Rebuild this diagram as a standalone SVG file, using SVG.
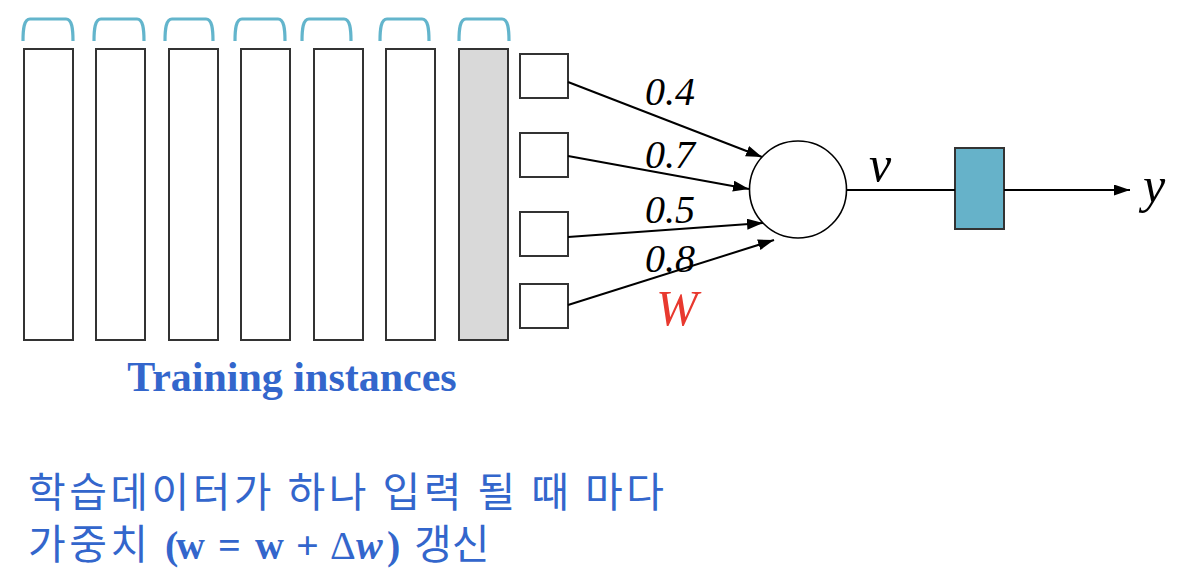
<svg xmlns="http://www.w3.org/2000/svg" width="1188" height="584" viewBox="0 0 1188 584">
<style>
.bracket{fill:none;stroke:#63B5CC;stroke-width:3.2;stroke-linecap:butt}
.bar{fill:#fff;stroke:#333;stroke-width:2}
.cur{fill:#D9D9D9;stroke:#333;stroke-width:2}
.inp{fill:#fff;stroke:#333;stroke-width:2}
.edge{stroke:#000;stroke-width:2;fill:none}
.wt{font-family:"Liberation Serif","Times New Roman",serif;font-style:italic;font-size:40px;fill:#000}
.var{font-family:"Liberation Serif","Times New Roman",serif;font-style:italic;font-size:50px;fill:#000}
.kr{font-family:"Noto Sans CJK KR","Noto Sans",sans-serif;font-size:41px;fill:#3366CC}
.ser{font-family:"Liberation Serif","Times New Roman",serif;font-weight:bold;font-size:40px;fill:#3366CC}
</style>
<defs>
<marker id="ah" markerUnits="userSpaceOnUse" markerWidth="17" markerHeight="12" refX="16" refY="5.5" orient="auto">
<path d="M0,0 L16,5.5 L0,11 z" fill="#000"/>
</marker>
</defs>
<g id="brackets">
<path class="bracket" d="M23,41 C23,29 24,19 30,19 H66 C72,19 73,29 73,41"/>
<path class="bracket" d="M94,41 C94,29 95,19 101,19 H137 C143,19 144,29 144,41"/>
<path class="bracket" d="M165,41 C165,29 166,19 172,19 H206 C212,19 213,29 213,41"/>
<path class="bracket" d="M235,41 C235,29 236,19 242,19 H278 C284,19 285,29 285,41"/>
<path class="bracket" d="M302,41 C302,29 303,19 309,19 H344 C350,19 351,29 351,41"/>
<path class="bracket" d="M380,41 C380,29 381,19 387,19 H422 C428,19 429,29 429,41"/>
<path class="bracket" d="M459,41 C459,29 460,19 466,19 H502 C508,19 509,29 509,41"/>
</g>
<g id="instance1"><rect class="bar" x="24" y="49" width="49" height="291"/></g>
<g id="instance2"><rect class="bar" x="96" y="49" width="49" height="291"/></g>
<g id="instance3"><rect class="bar" x="169" y="49" width="49" height="291"/></g>
<g id="instance4"><rect class="bar" x="241" y="49" width="49" height="291"/></g>
<g id="instance5"><rect class="bar" x="314" y="49" width="49" height="291"/></g>
<g id="instance6"><rect class="bar" x="386" y="49" width="49" height="291"/></g>
<g id="instance7"><rect class="cur" x="459" y="49" width="49" height="291"/></g>
<g id="input1"><rect class="inp" x="520" y="54" width="48" height="44"/></g>
<g id="input2"><rect class="inp" x="520" y="133" width="48" height="44"/></g>
<g id="input3"><rect class="inp" x="520" y="212" width="48" height="44"/></g>
<g id="input4"><rect class="inp" x="520" y="284" width="48" height="44"/></g>
<g id="neuron"><circle cx="798" cy="189.5" r="48.5" fill="#fff" stroke="#000" stroke-width="1.6"/></g>
<g id="activation"><rect x="955" y="148" width="49" height="81" fill="#66B2C9" stroke="#333" stroke-width="2"/></g>
<g id="connectors">
<line class="edge" x1="568" y1="82" x2="762" y2="157" marker-end="url(#ah)"/>
<line class="edge" x1="568" y1="156" x2="749" y2="189" marker-end="url(#ah)"/>
<line class="edge" x1="568" y1="237" x2="763" y2="223" marker-end="url(#ah)"/>
<line class="edge" x1="568" y1="305" x2="774" y2="240" marker-end="url(#ah)"/>
<line class="edge" x1="847" y1="190" x2="955" y2="190"/>
<line class="edge" x1="1004" y1="190" x2="1130" y2="190" marker-end="url(#ah)"/>
</g>
<g id="labels">
<text class="wt" x="645" y="105">0.4</text>
<text class="wt" x="645" y="168">0.7</text>
<text class="wt" x="645" y="223">0.5</text>
<text class="wt" x="645" y="272">0.8</text>
<text class="var" x="656" y="325" style="fill:#E8392F">W</text>
<text class="var" x="869" y="181">v</text>
<text class="var" x="1143" y="202">y</text>
<text x="292" y="391" text-anchor="middle" style="font-family:'Liberation Serif','Times New Roman',serif;font-weight:bold;font-size:42px;fill:#3366CC">Training instances</text>
<text class="kr" x="28" y="507" textLength="636" lengthAdjust="spacing">학습데이터가 하나 입력 될 때 마다</text>
<text class="kr" x="28" y="559" textLength="120" lengthAdjust="spacing">가중치</text>
<text class="ser" y="559"><tspan x="165">(</tspan><tspan x="176">w</tspan><tspan x="218">=</tspan><tspan x="255">w</tspan><tspan x="296">+</tspan><tspan x="330" style="font-weight:normal">Δ</tspan><tspan x="356" style="font-style:italic">w</tspan><tspan x="387">)</tspan></text>
<text class="kr" x="414" y="559">갱신</text>
</g>
</svg>
